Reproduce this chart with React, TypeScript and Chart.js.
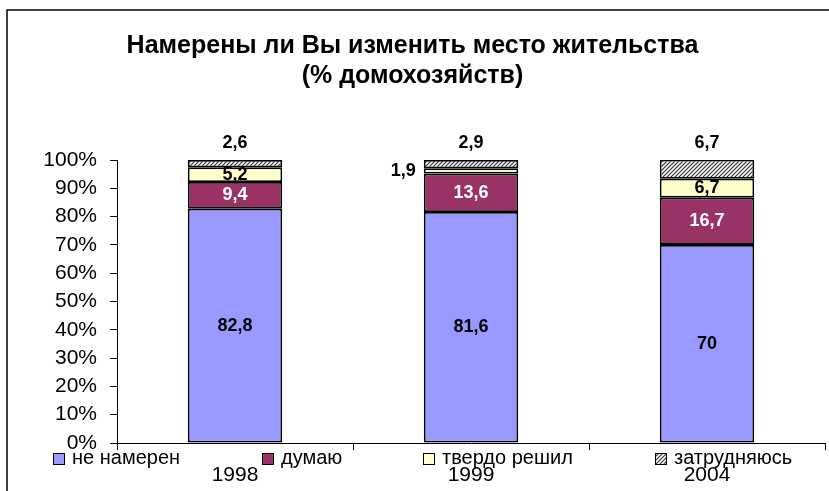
import React, { useEffect, useRef } from "react";
import { Chart, registerables } from "chart.js";

Chart.register(...registerables);

const titleLines = ["Намерены ли Вы изменить место жительства", "(% домохозяйств)"];
const categories = ["1998", "1999", "2004"];
const seriesNames = ["не намерен", "думаю", "твердо решил", "затрудняюсь"];
const notIntending = [82.8, 81.6, 70];
const thinking = [9.4, 13.6, 16.7];
const decided = [5.2, 1.9, 6.7];
const undecided = [2.6, 2.9, 6.7];
const yMax = 100;
const yStep = 10;

const FONT = "'Liberation Sans', Arial, sans-serif";

function makeHatch(): CanvasPattern | string {
  const c = document.createElement("canvas");
  c.width = 4;
  c.height = 4;
  const g = c.getContext("2d");
  if (!g) return "#808080";
  g.fillStyle = "#ffffff";
  g.fillRect(0, 0, 4, 4);
  g.strokeStyle = "#333333";
  g.lineWidth = 1.2;
  g.beginPath();
  g.moveTo(-1, 1);
  g.lineTo(1, -1);
  g.moveTo(0, 4);
  g.lineTo(4, 0);
  g.moveTo(3, 5);
  g.lineTo(5, 3);
  g.stroke();
  const p = g.createPattern(c, "repeat");
  return p || "#808080";
}

const fmt = (v: number) => String(v).replace(".", ",");

export default function App() {
  const ref = useRef<HTMLCanvasElement | null>(null);

  useEffect(() => {
    if (!ref.current) return;
    const hatch = makeHatch();
    const fills: any[] = ["#9999FF", "#993366", "#FFFFCC", hatch];
    const values = [notIntending, thinking, decided, undecided];

    const framePlugin = {
      id: "frame",
      beforeDraw(chart: any) {
        const ctx = chart.ctx;
        ctx.save();
        ctx.fillStyle = "#ffffff";
        ctx.fillRect(0, 0, chart.width, chart.height);
        ctx.strokeStyle = "#000000";
        ctx.lineWidth = 1.5;
        ctx.beginPath();
        ctx.moveTo(7, chart.height);
        ctx.lineTo(7, 10);
        ctx.lineTo(chart.width, 10);
        ctx.stroke();
        ctx.restore();
      },
    };

    const labelPlugin = {
      id: "segLabels",
      afterDatasetsDraw(chart: any) {
        const ctx = chart.ctx;
        ctx.save();
        ctx.font = `bold 18px ${FONT}`;
        ctx.textBaseline = "middle";
        const n = chart.data.datasets.length;
        chart.data.datasets.forEach((ds: any, i: number) => {
          const meta = chart.getDatasetMeta(i);
          meta.data.forEach((el: any, j: number) => {
            const v = ds.data[j];
            const p = el.getProps(["x", "y", "base", "width"], true);
            let x = p.x;
            let y = (p.y + p.base) / 2;
            ctx.textAlign = "center";
            ctx.fillStyle = i === 1 ? "#ffffff" : "#000000";
            if (i === n - 1) {
              y = p.y - 17;
              ctx.fillStyle = "#000000";
            } else if (Math.abs(p.base - p.y) < 10) {
              x = p.x - p.width / 2 - 8;
              ctx.textAlign = "right";
              ctx.fillStyle = "#000000";
            }
            ctx.fillText(fmt(v), x, y);
          });
        });
        ctx.restore();
      },
    };

    const legendPlugin = {
      id: "customLegend",
      afterDraw(chart: any) {
        const ctx = chart.ctx;
        const xs = [53, 262, 423, 655];
        const yc = 458;
        ctx.save();
        ctx.font = `20px ${FONT}`;
        ctx.textBaseline = "middle";
        ctx.textAlign = "left";
        chart.data.datasets.forEach((ds: any, i: number) => {
          const x = xs[i];
          ctx.fillStyle = ds.backgroundColor;
          ctx.fillRect(x, yc - 5, 11, 11);
          ctx.strokeStyle = "#000000";
          ctx.lineWidth = 1;
          ctx.strokeRect(x + 0.5, yc - 4.5, 11, 11);
          ctx.fillStyle = "#000000";
          ctx.fillText(ds.label, x + 19, yc);
        });
        ctx.restore();
      },
    };

    const chart = new Chart(ref.current, {
      type: "bar",
      data: {
        labels: categories,
        datasets: seriesNames.map((name, i) => ({
          label: name,
          data: values[i],
          backgroundColor: fills[i],
          borderColor: "#000000",
          borderWidth: 1.8,
          borderSkipped: false,
          barPercentage: 0.4,
          categoryPercentage: 1,
        })),
      },
      options: {
        responsive: false,
        animation: false,
        devicePixelRatio: 1,
        layout: { padding: { left: 0, right: 4, top: 0, bottom: 0 } },
        plugins: {
          legend: { display: false },
          tooltip: { enabled: false },
          title: {
            display: true,
            text: titleLines,
            color: "#000000",
            font: { family: FONT, size: 25, weight: "bold", lineHeight: 1.2 },
            padding: { top: 31, bottom: 69 },
          },
        },
        scales: {
          x: {
            stacked: true,
            afterFit: (s: any) => {
              s.height = 48;
            },
            grid: {
              offset: true,
              drawOnChartArea: false,
              drawTicks: true,
              tickLength: 7,
              color: "#000000",
            },
            border: { display: true, color: "#000000", width: 1 },
            ticks: {
              color: "#000000",
              font: { family: FONT, size: 21 },
              padding: 13,
            },
          },
          y: {
            stacked: true,
            min: 0,
            max: yMax,
            afterFit: (s: any) => {
              s.width = 117;
            },
            grid: {
              drawOnChartArea: false,
              drawTicks: true,
              tickLength: 7,
              color: "#000000",
            },
            border: { display: true, color: "#000000", width: 1 },
            ticks: {
              stepSize: yStep,
              color: "#000000",
              font: { family: FONT, size: 21 },
              padding: 13,
              callback: (v: any) => v + "%",
            },
          },
        },
      },
      plugins: [framePlugin, labelPlugin, legendPlugin],
    });
    return () => chart.destroy();
  }, []);

  return (
    <div style={{ position: "fixed", left: 0, top: 0, width: 829, height: 491, background: "#fff" }}>
      <canvas ref={ref} width={829} height={491} />
    </div>
  );
}
